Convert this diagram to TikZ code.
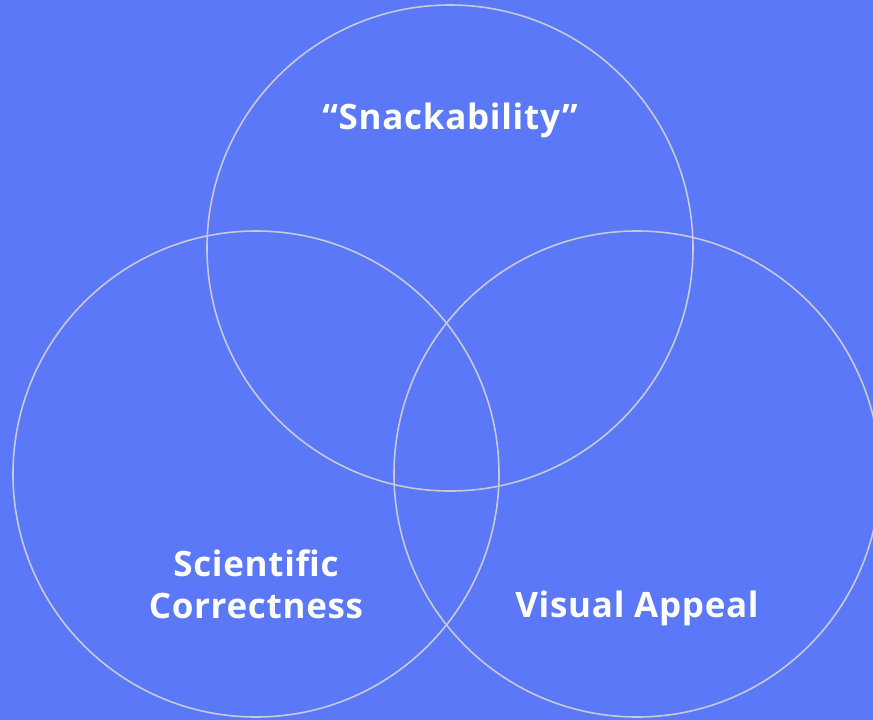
\documentclass[tikz,border=0pt]{standalone}
\usepackage{fontspec}
\setmainfont{Open Sans}
\definecolor{bg}{HTML}{5A78F8}
\definecolor{ring}{HTML}{C8CAD8}
\begin{document}
\begin{tikzpicture}[x=1pt,y=-1pt,
  ring/.style={draw=ring,line width=1.6pt},
  lbl/.style={text=white,font=\fontsize{35}{42}\selectfont\bfseries\addfontfeature{LetterSpace=2},align=center,inner sep=0pt}]
\fill[bg] (0,0) rectangle (873,720);
\useasboundingbox (0,0) rectangle (873,720);
\draw[ring] (450,248) circle (243);
\draw[ring] (256,474) circle (243);
\draw[ring] (637,474) circle (243);
\node[lbl] (snack) at (450,120) {“Snackability”};
\node[lbl] (sci) at (256,584) {Scientific\\Correctness};
\node[lbl] (vis) at (637,608) {Visual Appeal};
\end{tikzpicture}
\end{document}
